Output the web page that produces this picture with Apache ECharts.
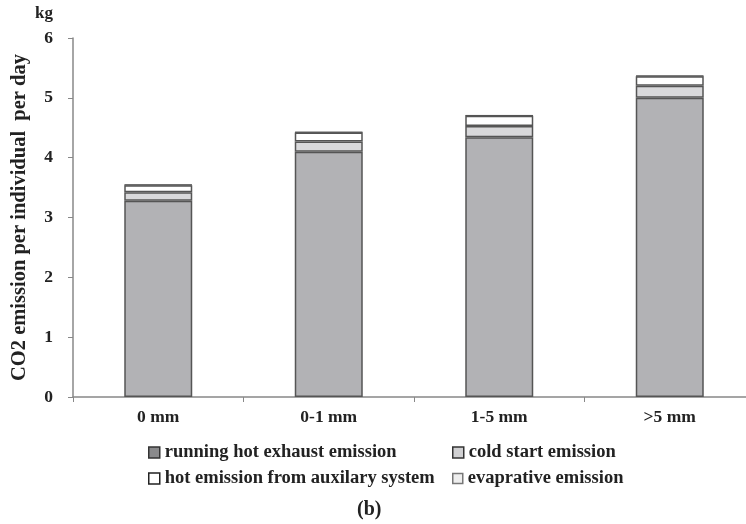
<!DOCTYPE html>
<html><head><meta charset="utf-8">
<script src="https://cdn.jsdelivr.net/npm/echarts@6/dist/echarts.min.js"></script>
<style>html,body{margin:0;padding:0;background:#fff}#c{width:746px;height:524px}</style>
</head><body><div id="c"></div>
<script>
var categories = ['0 mm', '0-1 mm', '1-5 mm', '>5 mm'];
var runningHot = [3.28, 4.10, 4.34, 5.00];
var coldStart = [0.14, 0.17, 0.19, 0.20];
var hotAux = [0.12, 0.15, 0.17, 0.16];
var evaporative = [0.01, 0.01, 0.01, 0.01];
var yTicks = [0, 1, 2, 3, 4, 5, 6];

var F = 'Liberation Serif';
var chart = echarts.init(document.getElementById('c'));
function bar(name, data, color, bw) {
  return { name: name, type: 'bar', stack: 's', data: data, barWidth: 68,
    itemStyle: { color: color, borderColor: '#555555', borderWidth: bw } };
}
function leg(name, left, top, fill, border, size) {
  return { data: [{ name: name, itemStyle: { color: fill, borderColor: border, borderWidth: 1.5 } }],
    left: left, top: top, itemWidth: size, itemHeight: size, itemGap: 5,
    icon: 'rect', selectedMode: false,
    textStyle: { fontFamily: F, fontWeight: 'bold', fontSize: 18.5, color: '#222', padding: [0, 0, 0, 0] } };
}
chart.setOption({
  animation: false,
  grid: { left: 73, width: 682, top: 38, bottom: 127, outerBoundsMode: 'none', containLabel: false },
  legend: [
    leg('running hot exhaust emission', 143, 438, '#8a8a8c', '#333', 11),
    leg('cold start emission', 447, 438, '#d0d0d2', '#333', 11),
    leg('hot emission from auxilary system', 143, 464, '#ffffff', '#222', 11),
    leg('evaprative emission', 447, 464, '#eeeeee', '#777', 10)
  ],
  xAxis: { type: 'category', data: categories,
    axisLine: { lineStyle: { color: '#888', width: 1.5 } },
    axisTick: { show: true, alignWithLabel: false, length: 5, lineStyle: { color: '#888' } },
    axisLabel: { fontFamily: F, fontWeight: 'bold', fontSize: 17.5, color: '#222', margin: 11 } },
  yAxis: { type: 'value', min: yTicks[0], max: yTicks[yTicks.length - 1], interval: 1,
    name: 'CO2 emission per individual  per day', nameLocation: 'middle', nameGap: 43, nameRotate: 90,
    nameTextStyle: { fontFamily: F, fontWeight: 'bold', fontSize: 20.5, color: '#222' },
    axisLine: { show: true, lineStyle: { color: '#888', width: 1.5 } },
    axisTick: { show: true, length: 5, lineStyle: { color: '#888' } },
    splitLine: { show: false },
    axisLabel: { fontFamily: F, fontWeight: 'bold', fontSize: 17.5, color: '#222', margin: 20 } },
  graphic: [
    { type: 'text', left: 35, top: 5, style: { text: 'kg', font: 'bold 17px "Liberation Serif"', fill: '#222' } },
    { type: 'text', left: 357, top: 500, style: { text: '(b)', font: 'bold 20px "Liberation Serif"', fill: '#222' } }
  ],
  series: [
    bar('running hot exhaust emission', runningHot, '#b2b2b5', 1.5),
    bar('cold start emission', coldStart, '#d9d9db', 1.5),
    bar('hot emission from auxilary system', hotAux, '#ffffff', 1.5),
    bar('evaprative emission', evaporative, '#555555', 1)
  ]
});
</script></body></html>
